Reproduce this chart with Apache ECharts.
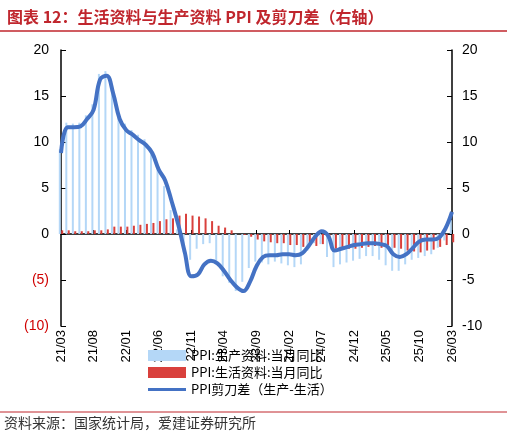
<!DOCTYPE html>
<html lang="zh">
<head>
<meta charset="UTF-8">
<title>PPI剪刀差</title>
<style>
  html, body { margin: 0; padding: 0; background: #fff; }
  #chart { width: 507px; height: 439px; }
</style>
</head>
<body>
<div id="chart"></div>
<script src="https://cdn.jsdelivr.net/npm/echarts@6/dist/echarts.min.js"></script>
<script>
var months = [];
(function () {
  var y = 21, m = 3;
  for (var i = 0; i < 61; i++) {
    months.push(y + '/' + (m < 10 ? '0' + m : m));
    m++; if (m > 12) { m = 1; y++; }
  }
})();

var prodPPI = [9.2, 12.1, 12.0, 12.1, 12.9, 14.1, 17.4, 17.7, 16.0, 13.3, 12.0, 11.3, 10.8, 10.3, 8.8, 7.5,
  5.2, 2.6, 0.5, -2.0, -2.8, -1.6, -1.1, -1.0, -3.1, -4.6, -5.3, -6.2, -5.2, -3.7, -3.0, -3.1, -3.3, -3.0, -3.2,
  -3.4, -3.6, -3.3, -1.8, -1.0, -1.1, -2.5, -3.6, -3.3, -3.1, -2.9, -2.7, -2.4, -2.4, -2.8, -3.4, -4.0, -4.0, -3.3,
  -2.8, -2.6, -2.4, -2.2, -1.5, -0.7, 1.5];
var lifePPI = [0.4, 0.4, 0.3, 0.3, 0.3, 0.4, 0.4, 0.5, 0.8, 0.8, 0.8, 0.9, 1.0, 1.1, 1.2, 1.4,
  1.6, 1.7, 2.0, 2.2, 2.0, 1.9, 1.7, 1.4, 0.9, 0.7, 0.4, 0.0, -0.1, -0.3, -0.6, -0.8, -0.9, -1.0, -1.0,
  -1.2, -1.2, -1.4, -1.3, -1.3, -1.1, -0.7, -1.6, -1.7, -1.6, -1.6, -1.5, -1.4, -1.3, -1.5, -1.2, -1.5, -1.6, -1.8,
  -1.9, -2.0, -1.8, -1.7, -1.4, -1.2, -0.9];
var gapPPI = [8.8, 11.6, 11.6, 11.7, 12.5, 13.5, 16.8, 17.2, 15.3, 12.5, 11.3, 10.8, 10.2, 9.7, 8.8, 7.0,
  5.8, 3.5, 1.0, -2.0, -4.6, -4.4, -3.3, -2.9, -3.2, -4.0, -5.0, -5.8, -6.2, -5.2, -3.5, -2.5, -2.3, -2.3, -2.2,
  -2.2, -2.3, -2.1, -1.3, -0.3, 0.3, -0.2, -1.8, -1.6, -1.4, -1.2, -1.1, -1.0, -1.0, -1.1, -1.3, -2.2, -2.5, -2.2,
  -1.5, -0.8, -0.6, -0.6, -0.4, 0.6, 2.4];
var leftTicks = { '20': '20', '15': '15', '10': '10', '5': '5', '0': '0', '-5': '(5)', '-10': '(10)' };

var chart = echarts.init(document.getElementById('chart'));
var axisLine = { show: true, lineStyle: { color: '#000', width: 1.5 } };
chart.setOption({
  animation: false,
  title: {
    text: '图表 12：生活资料与生产资料 PPI 及剪刀差（右轴）',
    left: 2, top: 4,
    textStyle: { color: '#c0262d', fontSize: 16, fontWeight: 'bold', fontFamily: 'Noto Sans CJK SC' }
  },
  graphic: [
    { type: 'line', shape: { x1: 0, y1: 31, x2: 507, y2: 31 }, style: { stroke: '#c0262d', lineWidth: 1.5 } },
    { type: 'line', shape: { x1: 0, y1: 412, x2: 507, y2: 412 }, style: { stroke: '#c0262d', lineWidth: 1 } },
    { type: 'text', left: 4, top: 416, style: { text: '资料来源：国家统计局，爱建证券研究所', fill: '#333', fontSize: 14, fontFamily: 'Noto Sans CJK SC' } }
  ],
  legend: {
    orient: 'vertical', left: 143, top: 344, itemGap: 4, itemWidth: 38, itemHeight: 11,
    textStyle: { fontSize: 13, color: '#000', fontFamily: 'Noto Sans CJK SC' },
    data: [
      { name: 'PPI:生产资料:当月同比', icon: 'rect' },
      { name: 'PPI:生活资料:当月同比', icon: 'rect' },
      { name: 'PPI剪刀差（生产-生活）', icon: 'path://M0,4H40V7H0Z' }
    ]
  },
  grid: { left: 61, right: 55, top: 50, bottom: 113 },
  xAxis: {
    type: 'category', data: months, boundaryGap: false,
    axisLine: { show: true, onZero: true, lineStyle: { color: '#000', width: 1.5 } },
    axisTick: { show: true, interval: 4, inside: true, length: 4, lineStyle: { color: '#000' } },
    axisLabel: { interval: 4, rotate: 90, fontSize: 13, color: '#000', margin: 4, fontFamily: 'Liberation Sans' }
  },
  yAxis: [
    {
      type: 'value', min: -10, max: 20, interval: 5, splitLine: { show: false },
      axisLine: axisLine, axisTick: { show: true, inside: true, lineStyle: { color: '#000' } },
      axisLabel: {
        fontSize: 14, fontFamily: 'Liberation Sans', margin: 12,
        formatter: function (v) { return leftTicks[String(v)]; },
        color: function (v) { return v < 0 ? '#d00000' : '#000'; }
      }
    },
    {
      type: 'value', min: -10, max: 20, interval: 5, splitLine: { show: false },
      axisLine: axisLine, axisTick: { show: true, inside: true, lineStyle: { color: '#000' } },
      axisLabel: { fontSize: 14, color: '#000', fontFamily: 'Liberation Sans', margin: 10 }
    }
  ],
  series: [
    { name: 'PPI:生产资料:当月同比', type: 'bar', data: prodPPI, barWidth: 2, barGap: '20%',
      itemStyle: { color: '#b4d7f7' } },
    { name: 'PPI:生活资料:当月同比', type: 'bar', data: lifePPI, barWidth: 2,
      itemStyle: { color: '#d9403c' } },
    { name: 'PPI剪刀差（生产-生活）', type: 'line', yAxisIndex: 1, data: gapPPI, smooth: 0.4,
      symbol: 'none', lineStyle: { color: '#4472c4', width: 4 }, itemStyle: { color: '#4472c4' } }
  ]
});
</script>
</body>
</html>
